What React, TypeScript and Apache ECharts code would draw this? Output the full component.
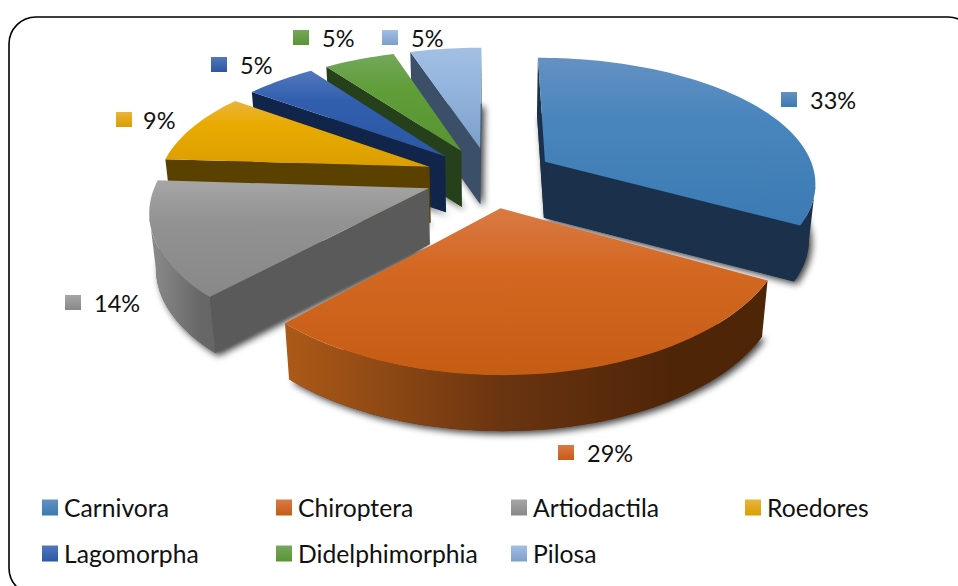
import React, { useEffect, useRef } from "react";
import * as echarts from "echarts";

const CATEGORIES = ["Carnivora", "Chiroptera", "Artiodactila", "Roedores", "Lagomorpha", "Didelphimorphia", "Pilosa"];
const SHARES = [33, 29, 14, 9, 5, 5, 5];

// styles and layout, per category
const TOP_COLORS = [
  ["#6491c2", "#4a86be", "#3b7ab3"],
  ["#d97a45", "#d46822", "#c55c14"],
  ["#a6a6a6", "#929292", "#888888"],
  ["#e9b43c", "#e9ab00", "#dc9e00"],
  ["#5277bd", "#315fae", "#2b57a3"],
  ["#74a85c", "#5f9e38", "#599432"],
  ["#a3bfe3", "#95b6de", "#7c9fca"],
];
const WALL_COLORS = ["#1b304a", "#54280a", "#5a5a5a", "#5a4100", "#11244a", "#25401a", "#3c4f68"];
const RIM_STOPS = [
  ["#1b304a", "#1b304a", "#1b304a"],
  ["#ad5a18", "#6a3410", "#4f2508"],
  ["#8c8c8c", "#777777", "#666666"],
  ["#5a4100", "#5a4100", "#5a4100"],
  ["#11244a", "#11244a", "#11244a"],
  ["#25401a", "#25401a", "#25401a"],
  ["#3c4f68", "#3c4f68", "#3c4f68"],
];
const KEY_POS = [[781, 92], [558, 445], [65, 295], [116, 112], [211, 57], [293, 30], [382, 30]];
const LABEL_X = [810, 587, 94, 143, 240, 322, 411];
const LEGEND_POS = [[42, 495], [276, 495], [511, 495], [745, 495], [42, 541], [276, 541], [511, 541]];
const Z_BY_CATEGORY = [6, 7, 5, 4, 3, 2, 1];

const FONT = "Lato, Carlito, 'Open Sans', sans-serif";
const CX = 490, CY = 177, RX = 271, RY = 126.5, PERSP_X = 0.15, PERSP_Y = 0.17, EXPLODE = 0.24, DEPTH = 56, CONVERGE = 0.98;

const total = SHARES.reduce((a, b) => a + b, 0);
const startAngle = (i: number) => (SHARES.slice(0, i).reduce((a, b) => a + b, 0) / total) * Math.PI * 2;

const project = (px: number, py: number): number[] => [
  CX + (px * RX) / (1 - py * PERSP_X),
  CY + (py * RY) / (1 - py * PERSP_Y),
];
const lower = (p: number[]): number[] => [CX + (p[0] - CX) * CONVERGE, p[1] + DEPTH];

function sliceGeometry(i: number) {
  const a0 = startAngle(i);
  const a1 = startAngle(i + 1);
  const m = (a0 + a1) / 2;
  const ox = Math.sin(m) * EXPLODE;
  const oy = -Math.cos(m) * EXPLODE;
  const apex = project(ox, oy);
  const rim: number[][] = [];
  const steps = Math.max(8, Math.round((a1 - a0) / (Math.PI / 120)));
  for (let k = 0; k <= steps; k++) {
    const a = a0 + ((a1 - a0) * k) / steps;
    rim.push(project(ox + Math.sin(a), oy - Math.cos(a)));
  }
  return { apex, rim };
}

const wall = (p: number[], q: number[]) => [p, q, lower(q), lower(p)];

function renderSlice(i: number) {
  const { apex, rim } = sliceGeometry(i);
  const top = [apex, ...rim];
  const children: any[] = [];
  const base = top.map(lower);

  children.push({
    type: "polygon",
    shape: { points: base },
    style: { fill: WALL_COLORS[i], shadowBlur: 7, shadowOffsetX: 3, shadowOffsetY: 3, shadowColor: "rgba(0,0,0,0.75)" },
  });

  const first = rim[0];
  const last = rim[rim.length - 1];
  if (first[0] < apex[0]) {
    children.push({ type: "polygon", shape: { points: wall(apex, first) }, style: { fill: WALL_COLORS[i] } });
  }
  if (apex[0] < last[0]) {
    children.push({ type: "polygon", shape: { points: wall(last, apex) }, style: { fill: WALL_COLORS[i] } });
  }

  const front: number[][] = [];
  for (let k = 0; k < rim.length - 1; k++) {
    if (rim[k + 1][0] < rim[k][0]) {
      if (!front.length) front.push(rim[k]);
      front.push(rim[k + 1]);
    }
  }
  if (front.length > 1) {
    const stops = RIM_STOPS[i];
    children.push({
      type: "polygon",
      shape: { points: [...front, ...front.slice().reverse().map(lower)] },
      style: {
        fill: new echarts.graphic.LinearGradient(0, 0, 1, 0, [
          { offset: 0, color: stops[0] },
          { offset: 0.45, color: stops[1] },
          { offset: 0.8, color: stops[2] },
          { offset: 1, color: stops[2] },
        ]),
      },
    });
  }

  children.push({
    type: "polygon",
    shape: { points: top },
    style: {
      fill: new echarts.graphic.LinearGradient(0, 0, 0, 1, [
        { offset: 0, color: TOP_COLORS[i][0] },
        { offset: 0.35, color: TOP_COLORS[i][1] },
        { offset: 1, color: TOP_COLORS[i][2] },
      ]),
    },
  });

  const [kx, ky] = KEY_POS[i];
  children.push({
    type: "rect",
    shape: { x: kx, y: ky, width: 16, height: 15 },
    style: {
      fill: new echarts.graphic.LinearGradient(0, 0, 0, 1, [
        { offset: 0, color: TOP_COLORS[i][0] },
        { offset: 1, color: TOP_COLORS[i][2] },
      ]),
    },
  });
  children.push({
    type: "text",
    style: {
      text: `${Math.round((SHARES[i] / total) * 100)}%`,
      x: LABEL_X[i],
      y: ky + 8,
      fill: "#111111",
      font: `23.5px ${FONT}`,
      verticalAlign: "middle",
      align: "left",
    },
  });
  return { type: "group", children };
}

export default function App() {
  const ref = useRef<HTMLDivElement>(null);
  useEffect(() => {
    document.body.style.margin = "0";
    const chart = echarts.init(ref.current!, null, { renderer: "svg" });
    chart.setOption({
      animation: false,
      backgroundColor: "#ffffff",
      legend: CATEGORIES.map((name, i) => ({
        show: true,
        left: LEGEND_POS[i][0],
        top: LEGEND_POS[i][1],
        padding: 0,
        itemWidth: 16,
        itemHeight: 16,
        itemGap: 0,
        selectedMode: false,
        data: [
          {
            name,
            icon: "rect",
            itemStyle: {
              color: new echarts.graphic.LinearGradient(0, 0, 0, 1, [
                { offset: 0, color: TOP_COLORS[i][0] },
                { offset: 1, color: TOP_COLORS[i][2] },
              ]),
            },
          },
        ],
        textStyle: { fontFamily: FONT, fontSize: 24.7, color: "#111111", padding: [0, 0, 0, 1] },
      })),
      graphic: [
        {
          type: "rect",
          silent: true,
          z: 0,
          shape: { x: 9, y: 17, width: 966, height: 578, r: 27 },
          style: { fill: "none", stroke: "#000000", lineWidth: 1.6 },
        },
      ],
      series: CATEGORIES.map((name, i) => ({
        type: "custom",
        name,
        coordinateSystem: "none",
        z: Z_BY_CATEGORY[i] + 2,
        silent: true,
        itemStyle: { color: TOP_COLORS[i][1] },
        data: [[SHARES[i]]],
        renderItem: () => renderSlice(i),
      })),
    });
    return () => chart.dispose();
  }, []);
  return <div ref={ref} style={{ width: 958, height: 586, position: "fixed", left: 0, top: 0 }} />;
}
